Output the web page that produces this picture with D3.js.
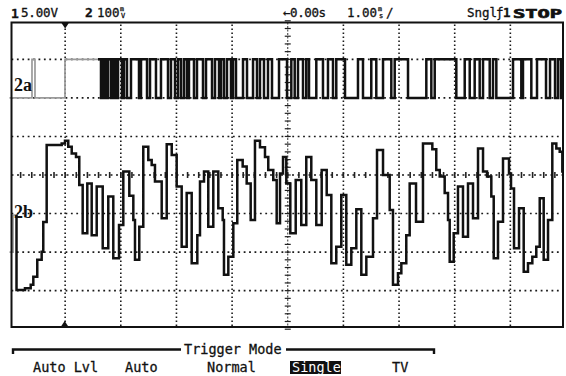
<!DOCTYPE html>
<html><head><meta charset="utf-8">
<script src="https://cdn.jsdelivr.net/npm/d3@7"></script>
<style>body{margin:0;background:#fff}svg{display:block}</style>
</head><body>
<svg id="scope" width="566" height="376"></svg>
<script>
// Horizontal: 1.00 ms/div over 10 divisions, centred on the trigger
const timeDomainMs = [-5, 5];
const gridDivX = d3.range(-5, 6);
const gridDivY = d3.range(-4, 5);

// Channel 1 (trace 2a): 5.00 V/div, positioned 2 div above centre
const ch1VoltsPerDiv = 5, ch1OffsetDiv = 2;
// Channel 2 (trace 2b): 100 mV/div, centred
const ch2MilliVoltsPerDiv = 100, ch2OffsetDiv = 0;

// trace 2a, pre-trigger record (grey): [time ms, volts]
const trace2aPre = [[-5, 0], [-4.596, 5], [-4.542, 0], [-4.003, 5]];
// trace 2a, live record: [time ms, volts]
const trace2a = [
  [-3.410, 5], [-3.356, 0], [-3.311, 5], [-3.266, 0], [-3.230, 5], [-3.176, 0],
  [-3.140, 5], [-3.095, 0], [-3.050, 5], [-2.979, 0], [-2.943, 5], [-2.889, 0],
  [-2.817, 5], [-2.673, 0], [-2.637, 5], [-2.529, 0], [-2.475, 5], [-2.368, 0],
  [-2.278, 5], [-2.152, 0], [-2.098, 5], [-2.026, 0], [-1.972, 5], [-1.918, 0],
  [-1.864, 5], [-1.810, 0], [-1.775, 5], [-1.685, 0], [-1.631, 5], [-1.523, 0],
  [-1.469, 5], [-1.361, 0], [-1.307, 5], [-1.235, 0], [-1.200, 5], [-1.146, 0],
  [-1.092, 5], [-1.020, 0], [-0.984, 5], [-0.930, 0], [-0.804, 5], [-0.732, 0],
  [-0.624, 5], [-0.553, 0], [-0.499, 5], [-0.427, 0], [-0.355, 5], [-0.283, 0],
  [-0.157, 5], [-0.013, 0], [0.064, 5], [0.125, 0], [0.184, 5], [0.274, 0],
  [0.333, 5], [0.382, 0], [0.513, 5], [0.633, 0], [0.723, 5], [0.813, 0],
  [0.872, 5], [1.029, 0], [1.262, 5], [1.352, 0], [1.501, 5], [1.591, 0],
  [1.712, 5], [1.861, 0], [1.922, 5], [2.161, 0], [2.490, 5], [2.580, 0],
  [2.641, 5], [3.029, 0], [3.180, 5], [3.270, 0], [3.359, 5], [3.449, 0],
  [3.509, 5], [3.629, 0], [3.688, 5], [3.748, 0], [4.048, 5], [4.197, 0],
  [4.227, 5], [4.377, 0], [4.479, 5], [4.641, 0], [4.713, 5], [4.803, 0],
  [4.856, 5], [4.910, 0]
];

// trace 2b, pre-trigger record (grey): [time ms, mV]
const trace2bPre = [[-5, -200], [-4.937, -104]];
// trace 2b, live record: [time ms, mV]
const trace2b = [
  [-4.874, -298], [-4.722, -294], [-4.619, -285], [-4.572, -264], [-4.501, -220],
  [-4.422, -199], [-4.393, -122], [-4.332, 78], [-4.062, 82], [-4.003, 89],
  [-3.944, 73], [-3.882, 56], [-3.805, 47], [-3.746, -26], [-3.685, -151],
  [-3.602, -22], [-3.523, -156], [-3.433, -30], [-3.325, -190], [-3.225, -56],
  [-3.135, -216], [-3.032, -130], [-2.955, 9], [-2.847, -54], [-2.775, -117],
  [-2.745, -220], [-2.668, -134], [-2.596, 73], [-2.506, 39], [-2.445, 26],
  [-2.386, -17], [-2.265, -112], [-2.175, 80], [-2.085, 52], [-1.996, -30],
  [-1.906, -186], [-1.816, -47], [-1.726, -229], [-1.625, -156], [-1.577, -17],
  [-1.505, 9], [-1.428, -134], [-1.338, 9], [-1.248, -86], [-1.169, -117],
  [-1.146, -259], [-1.068, -212], [-0.978, -125], [-0.907, 39], [-0.810, 22],
  [-0.738, -22], [-0.666, -117], [-0.589, 89], [-0.499, 72], [-0.409, 47],
  [-0.350, 13], [-0.260, -13], [-0.199, -125], [-0.139, 4], [-0.085, 47],
  [-0.026, -22], [0.046, -151], [0.143, -13], [0.243, -130], [0.333, 47],
  [0.423, -13], [0.513, -130], [0.610, 13], [0.700, -52], [0.783, -229],
  [0.872, -186], [0.962, -52], [1.052, -233], [1.142, -190], [1.232, -89],
  [1.322, -259], [1.412, -212], [1.532, -112], [1.604, 65], [1.712, 0],
  [1.832, -91], [1.891, -285], [1.981, -255], [2.041, -229], [2.130, -156],
  [2.191, -22], [2.305, -121], [2.430, 82], [2.598, 67], [2.669, 13],
  [2.731, -4], [2.820, -47], [2.880, -117], [2.910, -225], [2.982, -151],
  [3.059, -30], [3.149, -160], [3.239, -22], [3.329, -112], [3.419, 69],
  [3.509, 9], [3.581, -4], [3.658, -56], [3.701, -216], [3.778, -121],
  [3.868, 43], [3.976, 4], [4.012, -35], [4.066, -190], [4.156, -86],
  [4.240, -251], [4.317, -229], [4.395, -212], [4.466, -186], [4.528, -60],
  [4.599, -220], [4.677, -117], [4.754, 82], [4.826, 69], [4.887, 60],
  [4.934, 9]
];
const recordEndMs = 4.95;

const menuTitle = "Trigger Mode";
const menuLabels = ["Auto Lvl", "Auto", "Normal", "Single", "TV"];
const menuSelected = "Single";

// ---------------------------------------------------------------
const svg = d3.select("#scope");
const x = d3.scaleLinear().domain(timeDomainMs).range([9.5, 566]);
const yDiv = d3.scaleLinear().domain([-4, 4]).range([329.2, 20.8]);
const y1 = v => yDiv(ch1OffsetDiv + v / ch1VoltsPerDiv);
const y2 = v => yDiv(ch2OffsetDiv + v / ch2MilliVoltsPerDiv);
const mono = "'DejaVu Sans Mono', monospace";
const frame = {l: 11.5, r: 563, t: 22.5, b: 327};

// graticule
const grid = svg.append("g");
grid.selectAll("line.v").data(gridDivX.filter(d => d !== 0 && d > -5 && d < 5)).join("line")
  .attr("x1", d => x(d)).attr("x2", d => x(d)).attr("y1", frame.t + 2).attr("y2", frame.b)
  .attr("stroke", "#1a1a1a").attr("stroke-width", 1.6).attr("stroke-dasharray", "1.6,2.4");
grid.selectAll("line.h").data(gridDivY.filter(d => d !== 0 && d > -4 && d < 4)).join("line")
  .attr("y1", d => yDiv(d)).attr("y2", d => yDiv(d)).attr("x1", frame.l).attr("x2", frame.r)
  .attr("stroke", "#1a1a1a").attr("stroke-width", 1.6).attr("stroke-dasharray", "1.8,3.6");

// centre axes with 0.2-division minor ticks
grid.append("line").attr("x1", x(0)).attr("x2", x(0)).attr("y1", frame.t).attr("y2", frame.b)
  .attr("stroke", "#333").attr("stroke-width", 1).attr("stroke-dasharray", "2,1.5");
grid.append("line").attr("y1", yDiv(0)).attr("y2", yDiv(0)).attr("x1", frame.l).attr("x2", frame.r)
  .attr("stroke", "#1a1a1a").attr("stroke-width", 1.6).attr("stroke-dasharray", "2,3.5");
const minorY = d3.range(-4, 4.01, 0.2);
grid.selectAll("line.ty").data(minorY).join("line")
  .attr("x1", x(0) - 3).attr("x2", x(0) + 3).attr("y1", d => yDiv(d)).attr("y2", d => yDiv(d))
  .attr("stroke", "#222").attr("stroke-width", 1.2);
const minorX = d3.range(-5, 5.01, 0.2);
grid.selectAll("line.tx").data(minorX.filter(d => x(d) > frame.l && x(d) < frame.r)).join("line")
  .attr("x1", d => x(d)).attr("x2", d => x(d)).attr("y1", yDiv(0) - 3).attr("y2", yDiv(0) + 3)
  .attr("stroke", "#222").attr("stroke-width", 1.6);

// traces
const stepLine = (yf) => d3.line().x(d => x(d[0])).y(d => yf(d[1])).curve(d3.curveStepAfter);
const withEnd = (arr, endT) => arr.concat([[endT, arr[arr.length - 1][1]]]);

svg.append("path").attr("d", stepLine(y1)(withEnd(trace2aPre, trace2a[0][0])))
  .attr("fill", "none").attr("stroke", "#9a9a9a").attr("stroke-width", 1.7);
svg.append("path").attr("d", stepLine(y1)(withEnd(trace2a, recordEndMs)))
  .attr("fill", "none").attr("stroke", "#111").attr("stroke-width", 2.5);

svg.append("path").attr("d", stepLine(y2)(withEnd(trace2bPre, trace2b[0][0])))
  .attr("fill", "none").attr("stroke", "#9a9a9a").attr("stroke-width", 1.7);
const lastPre = trace2bPre[trace2bPre.length - 1][1];
svg.append("path").attr("d", stepLine(y2)(withEnd([[trace2b[0][0], lastPre]].concat(trace2b), recordEndMs)))
  .attr("fill", "none").attr("stroke", "#111").attr("stroke-width", 2.5);

// screen frame
svg.append("rect").attr("x", frame.l).attr("y", frame.t)
  .attr("width", frame.r - frame.l).attr("height", frame.b - frame.t)
  .attr("fill", "none").attr("stroke", "#111").attr("stroke-width", 2);

// trigger position markers
const trigMarkX = x(-4);
svg.append("path").attr("d", `M${trigMarkX - 4},${frame.t}L${trigMarkX + 4},${frame.t}L${trigMarkX},${frame.t + 6}Z`).attr("fill", "#111");
svg.append("path").attr("d", `M${trigMarkX - 4.5},${frame.b}L${trigMarkX + 3.5},${frame.b}L${trigMarkX - 0.5},${frame.b - 6}Z`).attr("fill", "#111");

// trace labels
const serif = "'Liberation Serif', 'DejaVu Serif', serif";
svg.append("text").attr("x", 14).attr("y", 91).text("2a")
  .attr("font-family", serif).attr("font-weight", "bold").attr("font-size", 18).attr("fill", "#111");
svg.append("text").attr("x", 14).attr("y", 218).text("2b")
  .attr("font-family", serif).attr("font-weight", "bold").attr("font-size", 18).attr("fill", "#111");

// status line
const status = svg.append("g").attr("font-family", mono).attr("fill", "#111")
  .attr("stroke", "#111").attr("stroke-width", 0.3);
const txt = (g, s, px, py, size, extra) => {
  const t = g.append("text").attr("x", px).attr("y", py).attr("font-size", size).text(s);
  if (extra) extra(t);
  return t;
};
txt(status, "1", 11, 18, 13, t => t.attr("font-weight", "bold"));
txt(status, "5.00V", 21, 17, 12.5, t => t.attr("textLength", 37));
txt(status, "2", 85, 17, 13, t => t.attr("font-weight", "bold"));
txt(status, "100", 97, 17, 12.5);
txt(status, "m", 120, 11, 6.5);
txt(status, "V", 121, 18, 7);
txt(status, "\u21900.00s", 283, 17, 12.5, t => t.attr("textLength", 43));
txt(status, "1.00", 347, 17, 12.5);
txt(status, "m", 378, 11, 6.5);
txt(status, "s", 379, 18, 7);
txt(status, "/", 386, 17, 12.5);
txt(status, "Sngl", 467, 17, 12.5);
txt(status, "\u0192", 496, 17, 12.5);
txt(status, "1", 503, 17, 12.5, t => t.attr("font-weight", "bold"));
txt(status, "STOP", 513, 18, 13, t => t.attr("font-weight", "bold").attr("textLength", 49).attr("lengthAdjust", "spacingAndGlyphs").attr("stroke-width", 0.7));

// soft-key menu
const menu = svg.append("g").attr("font-family", mono).attr("fill", "#111");
menu.append("path").attr("d", "M13,354V349.5H181M286,349.5H434V354")
  .attr("fill", "none").attr("stroke", "#111").attr("stroke-width", 2.4);
txt(menu, menuTitle, 184, 354, 13.5, t => t.attr("stroke", "#111").attr("stroke-width", 0.3));
const labelX = [33, 125, 207, 292, 392];
menuLabels.forEach((s, i) => {
  if (s === menuSelected) {
    menu.append("rect").attr("x", labelX[i] - 2).attr("y", 361).attr("width", 51).attr("height", 13).attr("fill", "#111");
    txt(menu, s, labelX[i], 372, 13.5, t => t.attr("fill", "#fff"));
  } else {
    txt(menu, s, labelX[i], 372, 13.5, t => t.attr("stroke", "#111").attr("stroke-width", 0.3));
  }
});
</script>
</body></html>
